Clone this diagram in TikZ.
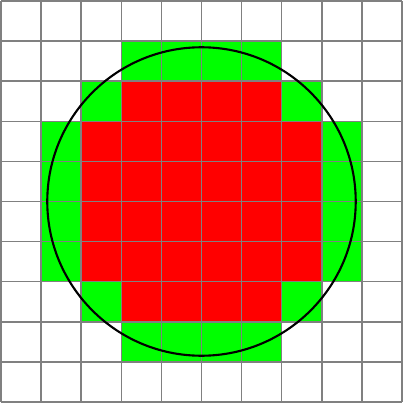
\documentclass[tikz,border=0pt]{standalone}
\usetikzlibrary{positioning}
\begin{document}
\begin{tikzpicture}[x=1cm,y=1cm]
\useasboundingbox (-0.03,-0.03) rectangle (10.03,10.03);
% cells that meet the circle
\foreach \a/\b in {{3,8}/{7,9},{3,1}/{7,2},{2,7}/{8,8},{2,2}/{8,3},{1,3}/{9,7}}{
  \fill[green] (\a) rectangle (\b);}
% cells inside the circle
\foreach \a/\b in {{3,7}/{7,8},{3,2}/{7,3},{2,3}/{8,7}}{
  \fill[red] (\a) rectangle (\b);}
\draw[gray,line width=1.2pt] (0,0) grid (10,10);
\draw[line width=1.5pt] (5,5) circle (3.85);
\end{tikzpicture}
\end{document}
